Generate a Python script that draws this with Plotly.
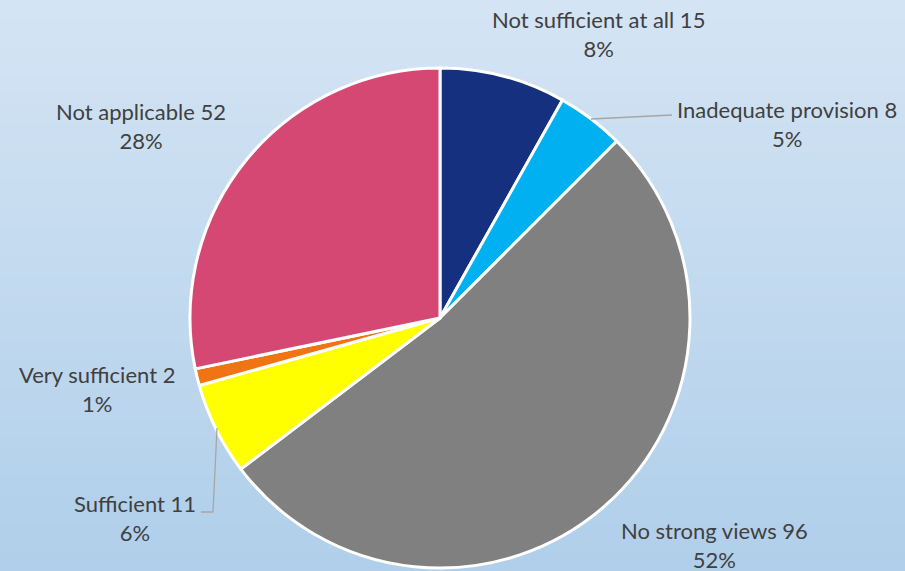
import plotly.graph_objects as go

labels = ["Not sufficient at all", "Inadequate provision", "No strong views",
          "Sufficient", "Very sufficient", "Not applicable"]
values = [15, 8, 96, 11, 2, 52]
percents = [8, 5, 52, 6, 1, 28]
colors = ["#14307f", "#00b0f0", "#808080", "#ffff00", "#f07314", "#d54873"]

# label anchor positions (paper fractions) for the data labels
label_x = [0.661, 0.870, 0.790, 0.149, 0.107, 0.156]
label_y = [0.940, 0.782, 0.045, 0.093, 0.318, 0.779]

W, H = 905, 571

fig = go.Figure()
fig.add_trace(go.Pie(
    labels=labels, values=values, sort=False, direction="clockwise", rotation=0,
    marker=dict(colors=colors, line=dict(color="white", width=3)),
    textinfo="none", hoverinfo="label+value+percent",
    domain=dict(x=[190 / W, 690 / W], y=[3 / H, 503 / H]),
    showlegend=False,
))

# gradient background
shapes = []
n = 60
top = (212, 228, 244)
bot = (176, 207, 234)
for i in range(n):
    t = i / (n - 1)
    c = tuple(round(top[k] + (bot[k] - top[k]) * t) for k in range(3))
    shapes.append(dict(type="rect", xref="paper", yref="paper", x0=0, x1=1,
                       y0=1 - (i + 1) / n, y1=1 - i / n + 0.001,
                       fillcolor="rgb(%d,%d,%d)" % c, line=dict(width=0), layer="below"))

# leader lines
lc = "rgb(166,166,166)"
shapes.append(dict(type="path", xref="paper", yref="paper",
                   path="M %f %f L %f %f" % (591 / W, 1 - 119 / H, 672 / W, 1 - 115 / H),
                   line=dict(color=lc, width=1.3)))
shapes.append(dict(type="path", xref="paper", yref="paper",
                   path="M %f %f L %f %f L %f %f" % (217 / W, 1 - 428 / H, 213 / W, 1 - 512 / H, 201 / W, 1 - 512 / H),
                   line=dict(color=lc, width=1.3)))

annotations = []
for lab, v, p, x, y in zip(labels, values, percents, label_x, label_y):
    annotations.append(dict(text=f"{lab} {v}<br>{p}%", x=x, y=y, xref="paper", yref="paper",
                            showarrow=False, xanchor="center", yanchor="middle", align="center",
                            font=dict(family="Lato, Open Sans, sans-serif", size=22, color="#404040")))

fig.update_layout(
    width=W, height=H, margin=dict(l=0, r=0, t=0, b=0),
    paper_bgcolor="#c6dcf0", shapes=shapes, annotations=annotations,
)
fig.write_html("out.html")
